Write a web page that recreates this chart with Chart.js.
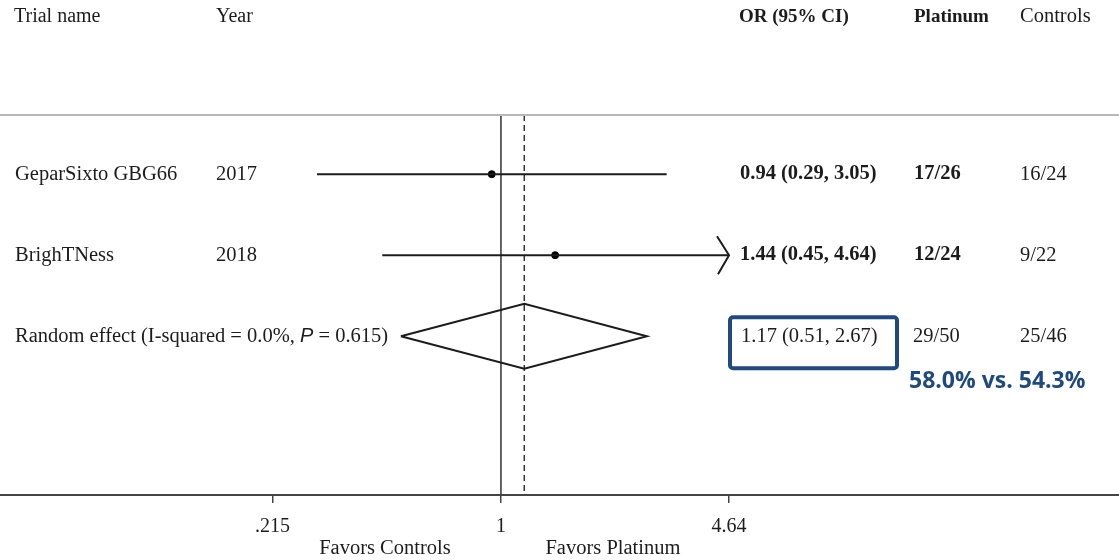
<!DOCTYPE html>
<html>
<head>
<meta charset="utf-8">
<script src="https://cdn.jsdelivr.net/npm/chart.js@4/dist/chart.umd.min.js"></script>
<style>
  html, body { margin: 0; padding: 0; background: #fff; }
  canvas { display: block; }
</style>
</head>
<body>
<canvas id="forest" width="1119" height="560"></canvas>
<script>
// Study rows
const TRIALS = ['GeparSixto GBG66', 'BrighTNess'];
const YEARS = ['2017', '2018'];
const OR = [0.94, 1.44];
const CI_LOW = [0.29, 0.45];
const CI_HIGH = [3.05, 4.64];
const CLIPPED = [false, true];
const PLATINUM = ['17/26', '12/24'];
const CONTROLS = ['16/24', '9/22'];

// Pooled estimate
const POOLED = [1.17, 0.51, 2.67];
const POOLED_PLATINUM = '29/50';
const POOLED_CONTROLS = '25/46';
const RATE_NOTE = '58.0% vs. 54.3%';

const ROWS = [1, 2, 3];
const TICK_VALUES = [0.215, 1, 4.64];
const TICK_LABELS = ['.215', '1', '4.64'];

const SERIF = '"Liberation Serif", "Times New Roman", serif';
const INK = '#1c1c1c';
const BLUE = '#1f4a80';

function fmtCI(o, lo, hi) {
  return `${o.toFixed(2)} (${lo.toFixed(2)}, ${hi.toFixed(2)})`;
}

const datasets = [];
TRIALS.forEach((t, i) => {
  datasets.push({
    data: [{ x: CI_LOW[i], y: ROWS[i] }, { x: CI_HIGH[i], y: ROWS[i] }],
    showLine: true, borderColor: INK, borderWidth: 2, pointRadius: 0,
  });
});
datasets.push({
  data: TRIALS.map((t, i) => ({ x: OR[i], y: ROWS[i] })),
  showLine: false, pointRadius: 3.5, backgroundColor: '#000', borderColor: '#000',
});
// diamond
datasets.push({
  data: [
    { x: POOLED[1], y: ROWS[2] }, { x: POOLED[0], y: ROWS[2] - 0.4 },
    { x: POOLED[2], y: ROWS[2] }, { x: POOLED[0], y: ROWS[2] + 0.4 },
    { x: POOLED[1], y: ROWS[2] },
  ],
  showLine: true, borderColor: INK, borderWidth: 2, pointRadius: 0, tension: 0,
});
// null line and pooled line
datasets.push({
  data: [{ x: 1, y: 0.27 }, { x: 1, y: 4.96 }],
  showLine: true, borderColor: '#333', borderWidth: 1.5, pointRadius: 0,
});
datasets.push({
  data: [{ x: POOLED[0], y: 0.27 }, { x: POOLED[0], y: 4.96 }],
  showLine: true, borderColor: '#333', borderWidth: 1.5, borderDash: [6, 4], pointRadius: 0,
});

const tablePlugin = {
  id: 'table',
  afterDraw(chart) {
    const { ctx, scales: { x, y }, chartArea } = chart;
    ctx.save();
    // top rule
    ctx.strokeStyle = '#b8b8b8';
    ctx.lineWidth = 2;
    ctx.beginPath();
    ctx.moveTo(0, chartArea.top);
    ctx.lineTo(chart.width, chartArea.top);
    ctx.stroke();

    ctx.fillStyle = INK;
    ctx.textBaseline = 'middle';
    ctx.textAlign = 'left';
    const reg = `20.5px ${SERIF}`;
    const bold = `bold 20.5px ${SERIF}`;
    const text = (s, px, py, f) => { ctx.font = f; ctx.fillText(s, px, py); };

    // header
    const hy = 17;
    text('Trial name', 14, hy, `20px ${SERIF}`);
    text('Year', 216, hy, `20px ${SERIF}`);
    text('OR (95% CI)', 739, hy, `bold 19px ${SERIF}`);
    text('Platinum', 914, hy, `bold 19px ${SERIF}`);
    text('Controls', 1020, hy, reg);

    TRIALS.forEach((t, i) => {
      const py = y.getPixelForValue(ROWS[i]);
      text(t, 15, py, reg);
      text(YEARS[i], 216, py, reg);
      text(fmtCI(OR[i], CI_LOW[i], CI_HIGH[i]), 740, py, bold);
      text(PLATINUM[i], 914, py, bold);
      text(CONTROLS[i], 1020, py, reg);
      if (CLIPPED[i]) {
        const ax = x.getPixelForValue(CI_HIGH[i]);
        ctx.strokeStyle = INK;
        ctx.lineWidth = 2;
        ctx.beginPath();
        ctx.moveTo(ax - 12, py - 19);
        ctx.lineTo(ax, py);
        ctx.lineTo(ax - 11, py + 19);
        ctx.stroke();
      }
    });

    // pooled row
    const py = y.getPixelForValue(ROWS[2]);
    let cx = 15;
    const part1 = 'Random effect (I-squared = 0.0%, ';
    ctx.font = reg; ctx.fillText(part1, cx, py); cx += ctx.measureText(part1).width;
    ctx.font = 'italic 20px "Liberation Sans", Arial, sans-serif';
    ctx.fillText('P', cx, py); cx += ctx.measureText('P').width;
    ctx.font = reg; ctx.fillText(' = 0.615)', cx, py);
    text(fmtCI(POOLED[0], POOLED[1], POOLED[2]), 741, py, reg);
    text(POOLED_PLATINUM, 913, py, reg);
    text(POOLED_CONTROLS, 1020, py, reg);

    // highlight box and note
    ctx.strokeStyle = BLUE;
    ctx.lineWidth = 4;
    ctx.beginPath();
    ctx.roundRect(730, py - 19, 167, 51, 3);
    ctx.stroke();
    ctx.fillStyle = BLUE;
    ctx.font = 'bold 23px "Open Sans", sans-serif';
    ctx.fillText(RATE_NOTE, 909, py + 45);

    // favors labels
    ctx.fillStyle = INK;
    ctx.textAlign = 'center';
    const one = x.getPixelForValue(1);
    text('Favors Controls', one - 116, 549, reg);
    text('Favors Platinum', one + 112, 549, reg);
    ctx.restore();
  },
};

new Chart(document.getElementById('forest'), {
  type: 'scatter',
  data: { datasets },
  options: {
    responsive: false,
    animation: false,
    events: [],
    layout: { autoPadding: false, padding: { top: 115, left: 0, right: 0, bottom: 9 } },
    plugins: { legend: { display: false }, tooltip: { enabled: false } },
    scales: {
      x: {
        type: 'logarithmic',
        min: 0.03436,
        max: 64.0,
        afterBuildTicks: s => { s.ticks = TICK_VALUES.map(v => ({ value: v })); },
        ticks: {
          autoSkip: false,
          maxRotation: 0,
          color: INK,
          padding: 12,
          font: { family: SERIF, size: 20 },
          callback: (v, i) => TICK_LABELS[i],
        },
        grid: { drawOnChartArea: false, drawTicks: true, tickLength: 8, color: '#444', lineWidth: 1.5 },
        border: { display: true, color: '#444', width: 2 },
      },
      y: {
        type: 'linear',
        display: false,
        reverse: true,
        min: 0.27,
        max: 4.96,
      },
    },
  },
  plugins: [tablePlugin],
});
</script>
</body>
</html>
